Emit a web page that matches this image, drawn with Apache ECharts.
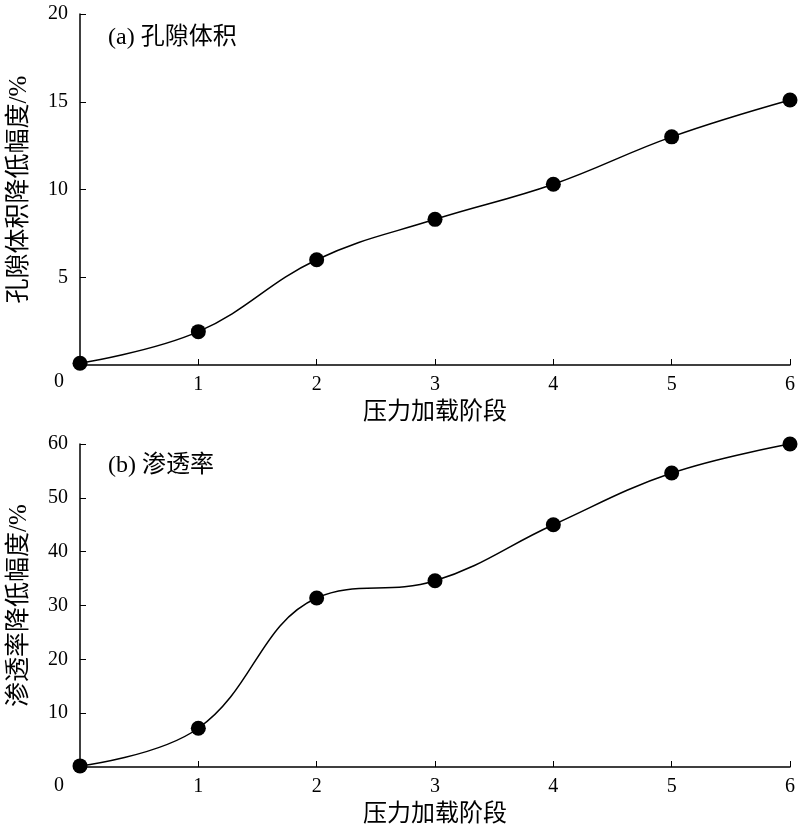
<!DOCTYPE html>
<html><head><meta charset="utf-8">
<script src="https://cdn.jsdelivr.net/npm/echarts@6/dist/echarts.min.js"></script>
<style>html,body{margin:0;padding:0;background:#fff}#c{width:800px;height:831px}</style>
</head><body><div id="c"></div>
<script>
const stages = [0, 1, 2, 3, 4, 5, 6];
const poreVolume = [0.1, 1.9, 6.0, 8.3, 10.3, 13.0, 15.1];
const permeability = [0.2, 7.2, 31.4, 34.6, 45.0, 54.6, 60.0];
const xLabel = '压力加载阶段';
const yLabelA = '孔隙体积降低幅度/%';
const yLabelB = '渗透率降低幅度/%';
const font = '"Liberation Serif","Noto Sans CJK SC",serif';
const chart = echarts.init(document.getElementById('c'));
const axisLine = {show: true, lineStyle: {color: '#000', width: 1.5}};
function xAxis(i) {
  return {gridIndex: i, type: 'value', min: 0, max: 6, interval: 1,
    axisLine, axisTick: {inside: true, length: 6, lineStyle: {color: '#000'}},
    splitLine: {show: false},
    axisLabel: {color: '#000', fontFamily: font, fontSize: 20, margin: 10,
      formatter: v => v === 0 ? '' : v},
    name: xLabel, nameLocation: 'middle', nameGap: 36,
    nameTextStyle: {color: '#000', fontFamily: font, fontSize: 24}};
}
function yAxis(i, max, interval, name) {
  return {gridIndex: i, type: 'value', min: 0, max, interval,
    axisLine, axisTick: {inside: true, length: 6, lineStyle: {color: '#000'}},
    splitLine: {show: false},
    axisLabel: {color: '#000', fontFamily: font, fontSize: 20, margin: 12,
      formatter: v => v === 0 ? '' : v},
    name, nameLocation: 'middle', nameGap: 48,
    nameTextStyle: {color: '#000', fontFamily: font, fontSize: 25}};
}
function series(i, data) {
  return {type: 'line', xAxisIndex: i, yAxisIndex: i, smooth: 0.4,
    data: stages.map((s, k) => [s, data[k]]),
    symbol: 'circle', symbolSize: 15,
    itemStyle: {color: '#000'}, lineStyle: {color: '#000', width: 1.5}};
}
chart.setOption({
  animation: false,
  grid: [
    {left: 80, right: 10, top: 14, height: 351, containLabel: false, outerBoundsMode: 'none'},
    {left: 80, right: 10, top: 444, height: 323, containLabel: false, outerBoundsMode: 'none'}
  ],
  xAxis: [xAxis(0), xAxis(1)],
  yAxis: [yAxis(0, 20, 5, yLabelA), yAxis(1, 60, 10, yLabelB)],
  series: [series(0, poreVolume), series(1, permeability)],
  graphic: [
    {type: 'text', left: 108, top: 26, style: {text: '(a) 孔隙体积', font: '24px ' + font, fill: '#000'}},
    {type: 'text', left: 108, top: 454, style: {text: '(b) 渗透率', font: '24px ' + font, fill: '#000'}},
    {type: 'text', left: 54, top: 372, style: {text: '0', font: '20px ' + font, fill: '#000'}},
    {type: 'text', left: 54, top: 776, style: {text: '0', font: '20px ' + font, fill: '#000'}}
  ]
});
</script></body></html>
